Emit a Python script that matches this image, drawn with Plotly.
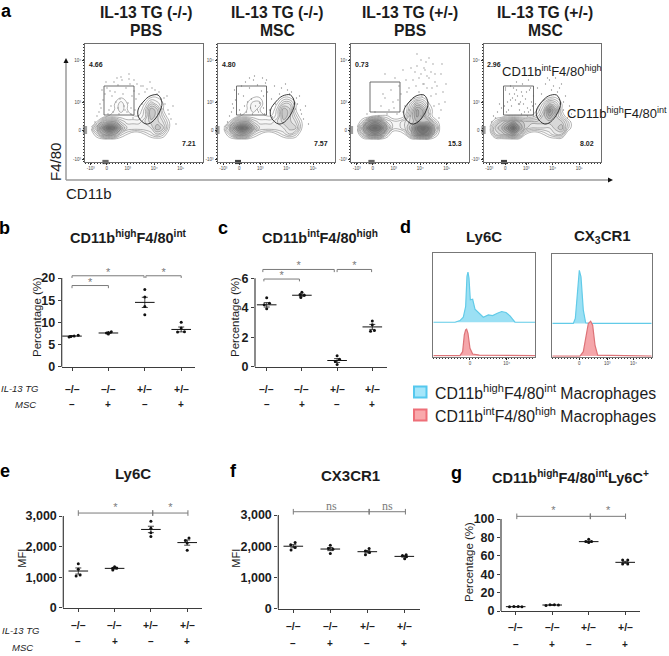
import plotly.graph_objects as go

W, H = 669, 656
SANS = "Liberation Sans"
INK = "#1c1c1c"
AXIS = "#3d3d3d"
BRACKET = "#7a7a7a"
BLUE_FILL, BLUE_LINE = "#9be0f4", "#62cbe8"
RED_FILL, RED_LINE = "#f5a6aa", "#dd7378"

GENOTYPE = ["–/–", "–/–", "+/–", "+/–"]
MSC = ["–", "+", "–", "+"]

# flow plots: channel scale of each frame (biexponential, so ticks are uneven)
FLOW_XTICKS = [5.7, 21.7, 42.7, 69.3, 95.7]
FLOW_XTEXT = ["-10³", "0", "10³", "10⁴", "10⁵"]
FLOW_YTICKS = [16.7, 58.7, 86, 115]
FLOW_YTEXT = ["10⁴", "10³", "0", "-10³"]
GRID_X = [6, 12, 18, 24, 30, 36, 42, 48, 54, 60, 66, 72, 78, 84, 90]
GRID_Y = [36, 42, 48, 54, 60, 66, 72, 78, 84, 90, 96]

DENSITY_1 = [
    [0, 0, 0, 0, 0, 0, 0, 0, 0, 0, 0, 0, 0, 0, 0],
    [0, 0, 0, 0, 0, 0, 0, 0, 0, 0, 0, 0, 0, 0, 0],
    [0, 0, 0, 0, 0, 0, 0, 0, 0, 0, 0, 0, 0, 0, 0],
    [0, 0, 0, 0, 0, 1, 0, 0, 0, 0, 1, 1, 0, 0, 0],
    [0, 0, 0, 0, 1, 2, 1, 0, 0, 1, 3, 2, 1, 0, 0],
    [0, 0, 0, 0, 1, 2, 1, 0, 0, 2, 5, 4, 1, 0, 0],
    [0, 0, 0, 1, 1, 1, 1, 1, 1, 2, 5, 4, 2, 0, 0],
    [0, 1, 4, 5, 5, 3, 2, 2, 2, 3, 4, 4, 3, 1, 0],
    [1, 4, 7, 9, 8, 5, 3, 3, 3, 3, 3, 5, 4, 1, 0],
    [0, 2, 5, 6, 5, 2, 1, 0, 0, 1, 2, 3, 2, 0, 0],
    [0, 0, 0, 0, 0, 0, 0, 0, 0, 0, 0, 0, 0, 0, 0],
]
DENSITY_2 = [
    [0, 0, 0, 0, 0, 0, 0, 0, 0, 0, 0, 0, 0, 0, 0],
    [0, 0, 0, 0, 0, 0, 0, 0, 0, 0, 0, 0, 0, 0, 0],
    [0, 0, 0, 0, 0, 0, 0, 0, 0, 0, 0, 0, 0, 0, 0],
    [0, 0, 0, 0, 0, 1, 1, 0, 0, 0, 1, 1, 0, 0, 0],
    [0, 0, 0, 0, 1, 2, 2, 0, 0, 1, 3, 3, 1, 0, 0],
    [0, 0, 0, 0, 1, 2, 1, 0, 0, 2, 5, 4, 1, 0, 0],
    [0, 0, 0, 1, 1, 1, 1, 1, 1, 2, 5, 4, 2, 0, 0],
    [0, 1, 4, 5, 5, 3, 2, 2, 2, 3, 4, 4, 3, 1, 0],
    [1, 4, 7, 9, 8, 5, 3, 3, 3, 3, 3, 4, 4, 1, 0],
    [0, 2, 5, 6, 5, 2, 1, 0, 0, 1, 2, 3, 2, 0, 0],
    [0, 0, 0, 0, 0, 0, 0, 0, 0, 0, 0, 0, 0, 0, 0],
]
DENSITY_3 = [
    [0, 0, 0, 0, 0, 0, 0, 0, 0, 0, 0, 0, 0, 0, 0],
    [0, 0, 0, 0, 0, 0, 0, 0, 0, 0, 0, 0, 0, 0, 0],
    [0, 0, 0, 0, 0, 0, 0, 0, 0, 0, 0, 0, 0, 0, 0],
    [0, 0, 0, 0, 0, 0, 0, 0, 0, 0, 1, 1, 0, 0, 0],
    [0, 0, 0, 0, 0, 0, 0, 0, 0, 2, 4, 3, 1, 0, 0],
    [0, 0, 0, 0, 0, 0, 0, 0, 0, 3, 6, 5, 2, 0, 0],
    [0, 0, 0, 1, 1, 1, 0, 0, 1, 4, 6, 5, 2, 0, 0],
    [0, 2, 6, 7, 6, 3, 2, 2, 3, 4, 5, 5, 5, 2, 0],
    [1, 5, 8, 9, 8, 5, 2, 2, 3, 5, 8, 9, 8, 4, 0],
    [0, 3, 6, 7, 6, 2, 0, 0, 1, 4, 7, 8, 7, 2, 0],
    [0, 0, 0, 0, 0, 0, 0, 0, 0, 0, 0, 0, 0, 0, 0],
]
DENSITY_4 = [
    [0, 0, 0, 0, 0, 0, 0, 0, 0, 0, 0, 0, 0, 0, 0],
    [0, 0, 0, 0, 0, 0, 0, 0, 0, 0, 0, 0, 0, 0, 0],
    [0, 0, 0, 0, 0, 0, 0, 0, 0, 0, 0, 0, 0, 0, 0],
    [0, 0, 0, 0, 0, 0, 0, 0, 0, 0, 1, 1, 0, 0, 0],
    [0, 0, 0, 0, 0, 1, 0, 0, 0, 2, 4, 3, 1, 0, 0],
    [0, 0, 0, 0, 0, 0, 0, 0, 1, 3, 7, 5, 1, 0, 0],
    [0, 0, 0, 1, 1, 1, 1, 1, 2, 4, 6, 4, 2, 0, 0],
    [0, 2, 4, 5, 6, 5, 4, 4, 4, 4, 4, 4, 4, 2, 0],
    [1, 4, 5, 7, 9, 6, 4, 3, 3, 3, 3, 4, 5, 2, 0],
    [0, 3, 4, 5, 6, 4, 1, 0, 0, 1, 2, 3, 3, 0, 0],
    [0, 0, 0, 0, 0, 0, 0, 0, 0, 0, 0, 0, 0, 0, 0],
]

DOTS_1_X = [22, 25, 29, 33, 37, 41, 45, 49, 27, 31, 35, 39, 43, 47, 18, 16, 24, 30, 38, 51, 54, 57, 60, 50, 46, 42,
            34, 26, 53, 48, 62, 72, 76, 80, 84, 70, 74, 78, 86, 12, 14, 10, 44, 36, 20, 56, 23, 28, 33, 40, 46, 52,
            17, 21, 32, 44, 49, 58, 65, 82, 88, 67, 83, 79, 91, 15]
DOTS_1_Y = [44, 47, 38, 41, 36, 44, 40, 47, 52, 58, 55, 62, 59, 52, 56, 64, 66, 48, 50, 55, 50, 60, 48, 66, 70, 68,
            70, 62, 72, 74, 45, 50, 55, 60, 70, 46, 48, 65, 75, 72, 68, 78, 35, 33, 50, 42, 70, 68, 64, 66, 64, 40,
            46, 38, 34, 30, 36, 42, 38, 52, 62, 44, 66, 54, 80, 60]
DOTS_2_X = [24, 28, 32, 36, 40, 44, 48, 26, 30, 34, 38, 42, 46, 18, 16, 22, 50, 54, 58, 62, 52, 47, 41, 35, 27, 55,
            72, 76, 80, 84, 70, 74, 78, 86, 12, 14, 10, 45, 37, 21, 57, 64, 68, 23, 29, 33, 40, 46, 17, 32, 49, 82,
            88, 83, 79, 91, 15]
DOTS_2_Y = [42, 38, 44, 36, 41, 47, 39, 52, 58, 55, 62, 59, 52, 56, 64, 66, 48, 55, 60, 50, 66, 70, 68, 70, 62, 73,
            50, 55, 60, 70, 46, 48, 65, 75, 72, 68, 78, 34, 32, 50, 42, 44, 40, 70, 68, 64, 66, 64, 46, 34, 36, 52,
            62, 66, 54, 80, 60]
DOTS_3_X = [30, 34, 38, 42, 46, 50, 54, 58, 62, 66, 70, 74, 78, 82, 86, 90, 94, 92, 88, 84, 80, 76, 72, 68, 64, 60,
            56, 52, 48, 44, 40, 36, 32, 55, 60, 65, 70, 75, 80, 85, 90, 58, 63, 68, 73, 78, 83, 88, 66, 71, 76, 81,
            52, 47, 43, 28, 24, 20, 16, 34, 73, 79, 64, 84, 59, 95, 91, 70]
DOTS_3_Y = [62, 54, 66, 58, 70, 50, 62, 44, 36, 22, 30, 26, 34, 20, 42, 30, 58, 48, 60, 38, 52, 44, 40, 48, 28, 56,
            48, 68, 42, 34, 46, 70, 50, 36, 24, 42, 16, 18, 28, 50, 66, 66, 54, 34, 40, 14, 62, 74, 10, 52, 32, 44,
            26, 56, 64, 72, 68, 76, 70, 30, 24, 70, 60, 30, 72, 40, 20, 72]
DOTS_4_X = [22, 26, 30, 34, 38, 42, 46, 50, 24, 28, 32, 36, 40, 44, 48, 23, 29, 35, 41, 47, 27, 33, 39, 45, 16, 14,
            54, 58, 62, 66, 52, 56, 60, 70, 74, 78, 82, 86, 68, 72, 76, 80, 84, 10, 8, 12, 18, 50, 44, 38, 57, 64,
            21, 25, 31, 37, 43, 49, 33, 39, 45, 27, 22, 47, 88, 80]
DOTS_4_Y = [46, 50, 44, 52, 48, 55, 46, 52, 58, 62, 56, 66, 60, 64, 58, 68, 54, 60, 68, 66, 42, 38, 40, 36, 60, 68,
            44, 50, 40, 36, 60, 66, 56, 42, 48, 40, 52, 62, 46, 34, 44, 58, 74, 72, 78, 74, 64, 72, 72, 70, 72, 34,
            62, 66, 50, 58, 48, 62, 46, 52, 68, 56, 44, 44, 70, 66]

RUG_X = [18, 19, 20, 21, 22, 23]
RUG_Y = [83, 85, 87, 89]
FLOW_BOXES = [(19, 49, 42, 71), (19, 49, 42, 71), (19, 49, 38, 68), (20, 50, 42, 71)]
ELLIPSE_X = [73, 77, 74, 67, 61, 54, 53, 59, 65, 73]
ELLIPSE_Y = [51, 59, 69, 78, 80, 74, 66, 57, 52, 51]

# histograms in panel d
LY6C_BLUE_X = [0, 65, 80, 90, 97, 101, 104, 107, 111, 118, 125, 138, 150, 165, 178, 192, 205, 218, 230, 245, 305]
LY6C_BLUE_Y = [103, 103, 108, 118, 150, 240, 253, 235, 170, 172, 142, 130, 118, 125, 123, 130, 135, 132, 122, 103, 103]
LY6C_RED_X = [0, 80, 88, 93, 97, 100, 104, 110, 118, 138, 305]
LY6C_RED_Y = [3, 3, 15, 65, 80, 82, 70, 25, 8, 5, 3]
CX3CR1_BLUE_X = [0, 63, 69, 75, 81, 86, 93, 100, 113, 298]
CX3CR1_BLUE_Y = [100, 100, 115, 200, 260, 240, 140, 102, 100, 100]
CX3CR1_RED_X = [0, 83, 93, 100, 108, 115, 121, 128, 136, 298]
CX3CR1_RED_Y = [2, 2, 15, 50, 100, 107, 95, 35, 5, 2]

# dot plots: four mice per group, offset is the sideways jitter of each dot
B_VALUES = [[6.7, 6.8, 6.9, 7.1], [7.4, 7.6, 7.7, 7.9], [17.4, 15.7, 13.6, 11.7], [10.0, 8.7, 7.8, 7.9]]
B_OFFSETS = [[-0.08, -0.03, 0.06, 0.17], [0, -0.05, 0, 0.08], [0, 0, 0, 0], [0, 0, -0.1, 0.09]]
B_MEANS = [6.9, 7.6, 14.5, 8.4]
B_SEM = [0.1, 0.1, 1.15, 0.55]

C_VALUES = [[4.68, 4.3, 4.2, 3.94], [5.05, 4.9, 4.85, 4.7], [0.75, 0.5, 0.35, 0.15], [3.1, 2.85, 2.45, 2.4]]
C_OFFSETS = [[0, 0.08, -0.07, 0], [0, -0.05, 0.07, -0.03], [0, 0.07, -0.05, 0], [0, 0, 0.06, -0.05]]
C_MEANS = [4.2, 4.85, 0.42, 2.7]
C_SEM = [0.15, 0.07, 0.13, 0.17]

E_VALUES = [[1440, 1255, 1035, 1070], [1340, 1290, 1300, 1230], [2830, 2600, 2450, 2330], [2280, 2200, 2120, 1880]]
E_OFFSETS = [[0, 0, -0.06, 0.05], [0, -0.05, 0.06, -0.05], [0, 0, 0, 0], [0.05, -0.05, 0, 0]]
E_MEANS = [1200, 1287, 2560, 2130]
E_SEM = [100, 25, 105, 85]

F_VALUES = [[2120, 2050, 1960, 1880], [2030, 1930, 1900, 1770], [1930, 1850, 1800, 1730], [1730, 1700, 1660, 1600]]
F_OFFSETS = [[0.05, -0.07, 0.05, -0.06], [0, -0.05, 0.07, 0], [0.05, -0.05, 0.06, -0.05], [0.05, -0.05, 0.06, 0.01]]
F_MEANS = [2000, 1910, 1825, 1675]
F_SEM = [50, 50, 40, 25]

G_VALUES = [[4.5, 4.8, 4.8, 4.7], [6.0, 6.8, 6.8, 6.5], [78, 75.5, 75.5, 74.5], [55.5, 55.5, 51, 51]]
G_OFFSETS = [[-0.17, -0.05, 0.07, 0.17], [-0.17, -0.06, 0.06, 0.17], [0, -0.08, 0.08, 0], [-0.07, 0.07, -0.07, 0.07]]
G_MEANS = [4.7, 6.5, 75.4, 52.9]
G_SEM = [0.2, 0.2, 0.7, 1.1]

fig = go.Figure()
axis_count = 0


def X(px):
    return px / W


def Y(py):
    return 1 - py / H


def label(px, py, text, size=12, bold=False, italic=False, color=INK, angle=0, family=SANS, anchor="center"):
    fig.add_annotation(
        x=X(px), y=Y(py), xref="paper", yref="paper", text=text, showarrow=False,
        textangle=angle, xanchor=anchor, yanchor="middle",
        font=dict(family=family, size=size, color=color, weight="bold" if bold else "normal",
                  style="italic" if italic else "normal"),
    )


def new_axes(left, right, top, bottom, xaxis, yaxis):
    global axis_count
    axis_count += 1
    n = axis_count
    fig.layout[f"xaxis{n}"] = dict(domain=[X(left), X(right)], anchor=f"y{n}", showgrid=False, zeroline=False, **xaxis)
    fig.layout[f"yaxis{n}"] = dict(domain=[Y(bottom), Y(top)], anchor=f"x{n}", showgrid=False, zeroline=False, **yaxis)
    return dict(xaxis=f"x{n}", yaxis=f"y{n}")


def flow_panel(left, density, dots_x, dots_y, box, low_left, low_right, right=None):
    right = right or left + 117.5
    tiny = dict(family=SANS, size=4.5, color="#444")
    minor = dict(ticks="outside", ticklen=1, tickcolor="#333", dtick=3)
    ref = new_axes(
        left, right, 44, 162,
        dict(range=[0, right - left], tickvals=FLOW_XTICKS, ticktext=FLOW_XTEXT, tickfont=tiny, ticks="outside",
             ticklen=2, tickcolor="#333", showline=True, linecolor="#6e6e6e", mirror=True, minor=minor),
        dict(range=[118, 0], tickvals=FLOW_YTICKS, ticktext=FLOW_YTEXT, tickfont=tiny, ticks="outside",
             ticklen=2, tickcolor="#333", showline=True, linecolor="#6e6e6e", mirror=True, minor=minor),
    )
    fig.add_trace(go.Contour(x=GRID_X, y=GRID_Y, z=density, showscale=False, hoverinfo="skip", zmin=0, zmax=9,
                             contours=dict(coloring="fill", start=0.9, end=9, size=0.7),
                             line=dict(width=0.5, smoothing=1.3, color="#6a6a6a"),
                             colorscale=[[0, "white"], [0.3, "#ececec"], [1, "#6d6d6d"]], **ref))
    fig.add_trace(go.Scatter(x=dots_x, y=dots_y, mode="markers", marker=dict(size=1.3, color="#8f8f8f"),
                             hoverinfo="skip", **ref))
    x0, x1, y0, y1 = box
    fig.add_trace(go.Scatter(x=[x0, x1, x1, x0, x0], y=[y0, y0, y1, y1, y0], mode="lines",
                             line=dict(color="#5f5f5f", width=0.9), hoverinfo="skip", **ref))
    fig.add_trace(go.Scatter(x=ELLIPSE_X, y=ELLIPSE_Y, mode="lines",
                             line=dict(color="#222", width=0.9, shape="spline"), hoverinfo="skip", **ref))
    fig.add_trace(go.Scatter(x=RUG_X, y=[118] * len(RUG_X), mode="markers", cliponaxis=False,
                             marker=dict(symbol="line-ns", size=3, line=dict(width=0.8, color="#111")),
                             hoverinfo="skip", **ref))
    fig.add_trace(go.Scatter(x=[0] * len(RUG_Y), y=RUG_Y, mode="markers", cliponaxis=False,
                             marker=dict(symbol="line-ew", size=3, line=dict(width=0.8, color="#111")),
                             hoverinfo="skip", **ref))
    label(left + 2, 64.5, low_left, size=7, bold=True, anchor="left")
    label(left + 112.5, 144, low_right, size=7, bold=True, anchor="right")


def hist_panel(left, right, top, bottom, x_range, blue, red, ticks, tick_text):
    ref = new_axes(
        left, right, top, bottom,
        dict(range=x_range, tickvals=ticks, ticktext=tick_text, tickfont=dict(family=SANS, size=4.5, color="#444"),
             ticks="outside", ticklen=2, tickcolor="#222", showline=True, linecolor="#777", mirror=True,
             minor=dict(ticks="outside", ticklen=1, tickcolor="#333", dtick=9)),
        dict(range=[0, 309], showticklabels=False, ticks="", showline=True, linecolor="#777", mirror=True),
    )
    for (hx, hy), fill, line in ((blue, BLUE_FILL, BLUE_LINE), (red, RED_FILL, RED_LINE)):
        fig.add_trace(go.Scatter(x=hx, y=hy, mode="lines", fill="toself", fillcolor=fill,
                                 line=dict(color=line, width=1.2), hoverinfo="skip", **ref))


def dot_panel(left, right, top, bottom, cat_1, cat_step, y_max, ticks, tick_text, values, offsets, means, sem):
    # the plot area runs on above the top tick, so the brackets stay inside it
    head = 32
    span = bottom - top
    ref = new_axes(
        left, right, top - head, bottom,
        dict(range=[1 + (left - cat_1) / cat_step, 1 + (right - cat_1) / cat_step], tickvals=[1, 2, 3, 4],
             showticklabels=False, ticks="outside", ticklen=3, tickcolor=AXIS, showline=True, linecolor=AXIS,
             linewidth=1.2),
        dict(range=[0, y_max * (span + head) / span], tickvals=ticks, ticktext=tick_text, ticks="outside", ticklen=3,
             tickcolor=AXIS, showline=False,
             tickfont=dict(family=SANS, size=12.5, color=INK, weight="bold")),
    )
    fig.add_shape(type="line", xref="paper", yref="paper", x0=X(left), x1=X(left), y0=Y(bottom), y1=Y(top),
                  line=dict(color=AXIS, width=1.2))
    for i in range(4):
        fig.add_trace(go.Scatter(x=[i + 1 + o for o in offsets[i]], y=values[i], mode="markers",
                                 marker=dict(size=3, color="#111"), hoverinfo="skip", **ref))
    fig.add_trace(go.Scatter(x=[1, 2, 3, 4], y=means, mode="markers",
                             marker=dict(symbol="line-ew", size=14, line=dict(width=1, color="#111")),
                             error_y=dict(type="data", array=sem, color="#111", thickness=0.8, width=3),
                             hoverinfo="skip", **ref))
    return ref


def hooks(ref, x0, x1, top, leg, text_y, text="*"):
    # square bracket with its ends pointing down
    fig.add_trace(go.Scatter(x=[x0, x0, x1, x1], y=[leg, top, top, leg], mode="lines",
                             line=dict(color=BRACKET, width=1), hoverinfo="skip", **ref))
    fig.add_trace(go.Scatter(x=[(x0 + x1) / 2], y=[text_y], mode="text", text=[text],
                             textfont=dict(family=SANS, size=11, color=BRACKET), hoverinfo="skip", **ref))


def capped(ref, x0, x1, y, text_y, text="*", family=SANS, size=11):
    # flat bar with a small cap on each end
    fig.add_trace(go.Scatter(x=[x0, x1], y=[y, y], mode="lines+markers",
                             line=dict(color=BRACKET, width=1),
                             marker=dict(symbol="line-ns", size=4, line=dict(width=1, color=BRACKET)),
                             hoverinfo="skip", **ref))
    fig.add_trace(go.Scatter(x=[(x0 + x1) / 2], y=[text_y], mode="text", text=[text],
                             textfont=dict(family=family, size=size, color=BRACKET), hoverinfo="skip", **ref))


def rows(ref, y_genotype, y_msc):
    for i in range(4):
        for text, py, size in ((GENOTYPE[i], y_genotype, 10.5), (MSC[i], y_msc, 10)):
            fig.add_annotation(x=i + 1, y=Y(py), xref=ref["xaxis"], yref="paper", text=text, showarrow=False,
                               font=dict(family=SANS, size=size, color=INK, weight="bold"))


# panel a
for px, py, letter in ((6, 11, "a"), (4, 228, "b"), (223, 228, "c"), (405, 227, "d"),
                       (5, 471, "e"), (233, 471, "f"), (456, 473, "g")):
    label(px, py, letter, size=18, bold=True, color="#000")

flow_panel(85, DENSITY_1, DOTS_1_X, DOTS_1_Y, FLOW_BOXES[0], "4.66", "7.21")
flow_panel(217.5, DENSITY_2, DOTS_2_X, DOTS_2_Y, FLOW_BOXES[1], "4.80", "7.57")
flow_panel(351, DENSITY_3, DOTS_3_X, DOTS_3_Y, FLOW_BOXES[2], "0.73", "15.3")
flow_panel(483.5, DENSITY_4, DOTS_4_X, DOTS_4_Y, FLOW_BOXES[3], "2.96", "8.02")

for px, top_line, bottom_line in ((146, "IL-13 TG (-/-)", "PBS"), (277, "IL-13 TG (-/-)", "MSC"),
                                  (410, "IL-13 TG (+/-)", "PBS"), (545, "IL-13 TG (+/-)", "MSC")):
    label(px, 13, top_line, size=15.7, bold=True)
    label(px, 31, bottom_line, size=15.7, bold=True)

fig.add_shape(type="line", xref="paper", yref="paper", x0=X(66), x1=X(66), y0=Y(62), y1=Y(180),
              line=dict(color="#9a9a9a", width=1.5))
fig.add_shape(type="line", xref="paper", yref="paper", x0=X(66), x1=X(608), y0=Y(180), y1=Y(180),
              line=dict(color="#9a9a9a", width=1.5))
fig.add_shape(type="path", xref="paper", yref="paper", line=dict(width=0), fillcolor="#111",
              path=f"M {X(63.5)} {Y(63)} L {X(68.5)} {Y(63)} L {X(66)} {Y(58)} Z")
fig.add_shape(type="path", xref="paper", yref="paper", line=dict(width=0), fillcolor="#111",
              path=f"M {X(608)} {Y(177.5)} L {X(608)} {Y(182.5)} L {X(613)} {Y(180)} Z")
label(55, 162, "F4/80", size=15, angle=-90)
label(89.5, 193, "CD11b", size=15)
label(552, 71, "CD11b<sup>int</sup>F4/80<sup>high</sup>", size=13)
label(617, 113, "CD11b<sup>high</sup>F4/80<sup>int</sup>", size=13)

# panels b and c
ref_b = dot_panel(61.7, 195, 278, 366.7, 72, 36.4, 20, [0, 5, 10, 15, 20], ["0", "5", "10", "15", "20"],
                  B_VALUES, B_OFFSETS, B_MEANS, B_SEM)
hooks(ref_b, 1, 2.98, 20.5, 20, 21.0)
hooks(ref_b, 3.03, 4, 20.5, 20, 21.0)
hooks(ref_b, 1, 2, 18.3, 17.7, 18.8)
rows(ref_b, 389, 404)
label(128, 237, "CD11b<sup>high</sup>F4/80<sup>int</sup>", size=14.5, bold=True)
label(37, 317, "Percentage (%)", size=11.5, angle=-90)
label(20, 388, "IL-13 TG", size=9.5, italic=True)
label(25, 404, "MSC", size=9.5, italic=True)

ref_c = dot_panel(255, 387, 278.3, 366.7, 266.7, 35.2, 6, [0, 2, 4, 6], ["0", "2", "4", "6"],
                  C_VALUES, C_OFFSETS, C_MEANS, C_SEM)
hooks(ref_c, 0.89, 2.92, 6.6, 6.42, 6.85)
hooks(ref_c, 3, 3.98, 6.6, 6.42, 6.85)
hooks(ref_c, 0.92, 1.93, 5.95, 5.79, 6.15)
rows(ref_c, 389, 404)
label(320, 237, "CD11b<sup>int</sup>F4/80<sup>high</sup>", size=14.5, bold=True)
label(235, 317, "Percentage (%)", size=11.5, angle=-90)

# panel d
hist_panel(433.3, 535, 253.3, 356.7, [0, 305], (LY6C_BLUE_X, LY6C_BLUE_Y), (LY6C_RED_X, LY6C_RED_Y),
           [110, 220], ["0", "10⁴"])
hist_panel(552.3, 651.7, 254, 356.7, [0, 298], (CX3CR1_BLUE_X, CX3CR1_BLUE_Y), (CX3CR1_RED_X, CX3CR1_RED_Y),
           [81, 165, 243], ["0", "10³", "10⁴"])
label(483.5, 236, "Ly6C", size=15, bold=True)
label(602, 236, "CX<sub>3</sub>CR1", size=15, bold=True)
for py, fill, edge, name in ((392, "#a5e6fa", "#55c8ee", "CD11b<sup>high</sup>F4/80<sup>int</sup> Macrophages"),
                             (415, "#f9a9ac", "#ee6f78", "CD11b<sup>int</sup>F4/80<sup>high</sup> Macrophages")):
    fig.add_shape(type="rect", xref="paper", yref="paper", x0=X(414), x1=X(426.5), y0=Y(py + 5.5), y1=Y(py - 5.5),
                  fillcolor=fill, line=dict(color=edge, width=2))
    label(433, py, name, size=15.8, anchor="left")

# panels e, f, g
ref_e = dot_panel(63.3, 202, 516, 607.7, 78.3, 36.3, 3000, [0, 1000, 2000, 3000], ["0", "1,000", "2,000", "3,000"],
                  E_VALUES, E_OFFSETS, E_MEANS, E_SEM)
capped(ref_e, 1, 3.05, 3097, 3240)
capped(ref_e, 3.05, 4.02, 3097, 3240)
rows(ref_e, 632.7, 649)
label(132.7, 473, "Ly6C", size=15, bold=True)
label(21.7, 558, "MFI", size=11, angle=-90)
label(20.7, 630, "IL-13 TG", size=9.5, italic=True)
label(22.7, 647, "MSC", size=9.5, italic=True)

ref_f = dot_panel(278.3, 420, 515, 608.7, 293.3, 37, 3000, [0, 1000, 2000, 3000], ["0", "1,000", "2,000", "3,000"],
                  F_VALUES, F_OFFSETS, F_MEANS, F_SEM)
capped(ref_f, 1, 3.05, 3105, 3270, "ns", "Liberation Serif", 12)
capped(ref_f, 3.05, 4.03, 3105, 3270, "ns", "Liberation Serif", 12)
rows(ref_f, 634, 651)
label(350, 475, "CX3CR1", size=15, bold=True)
label(235.7, 558, "MFI", size=11, angle=-90)

ref_g = dot_panel(501, 640, 519, 611, 515.7, 36.5, 100, [0, 20, 40, 60, 80, 100],
                  ["0", "20", "40", "60", "80", "100"], G_VALUES, G_OFFSETS, G_MEANS, G_SEM)
capped(ref_g, 1.03, 3.04, 102.9, 108)
capped(ref_g, 3.05, 4.01, 102.9, 108)
rows(ref_g, 635, 652)
label(570, 477, "CD11b<sup>high</sup>F4/80<sup>int</sup>Ly6C<sup>+</sup>", size=14.5, bold=True)
label(469, 562, "Percentage (%)", size=11.5, angle=-90)

fig.update_layout(
    width=W, height=H, autosize=False, showlegend=False,
    margin=dict(l=0, r=0, t=0, b=0, pad=0, autoexpand=False), paper_bgcolor="white", plot_bgcolor="rgba(0,0,0,0)",
    font=dict(family=SANS, color=INK),
)
# plotly leaves the page's default body margin in place unless told otherwise
fig.write_html("out.html", config={"displayModeBar": False},
               post_script="document.body.style.margin='0';document.documentElement.style.overflow='hidden';")
